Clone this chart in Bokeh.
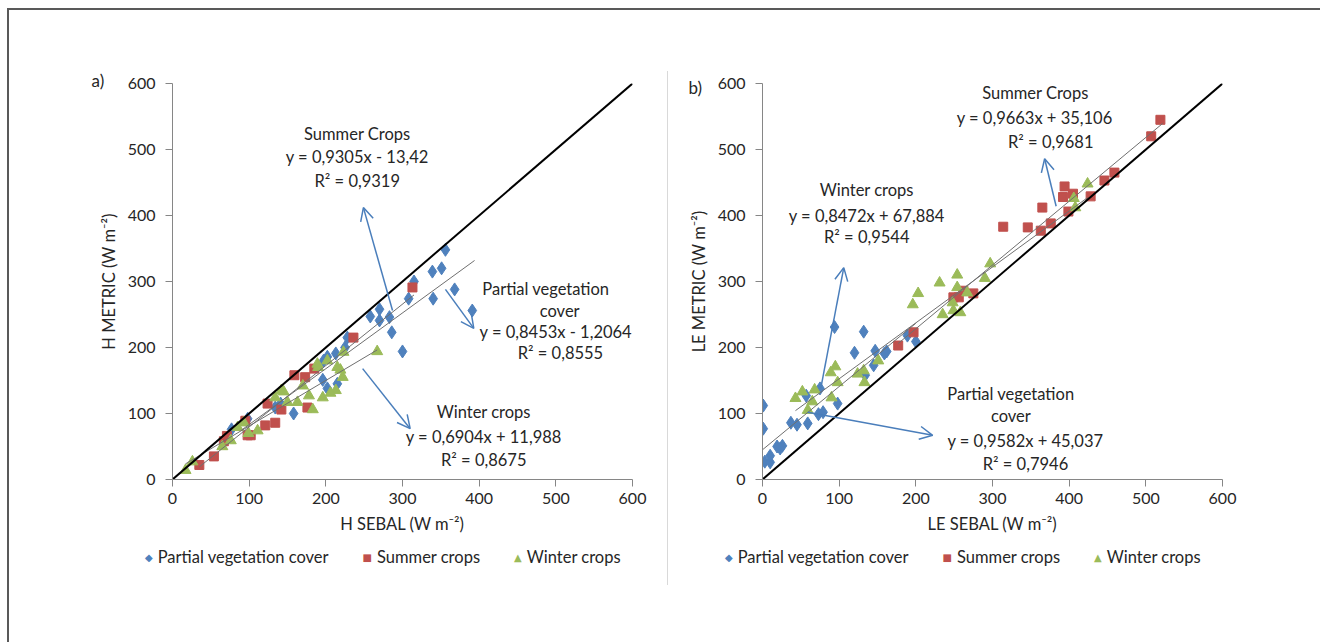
from bokeh.plotting import figure
from bokeh.layouts import row, column
from bokeh.models import Label, Arrow, OpenHead, Div, FixedTicker, Range1d
from bokeh.embed import file_html
from bokeh.resources import INLINE

# ---------------- data (a) sensible heat flux H ----------------
pv_h_x = [356, 339, 351, 340, 368, 391, 315, 308, 286, 300, 283, 270, 258, 270, 225, 228,
          213, 202, 197, 196, 202, 215, 158, 141, 134, 98, 77]
pv_h_y = [348, 315, 320, 274, 288, 256, 300, 274, 223, 194, 246, 258, 247, 241, 200, 215,
          191, 186, 180, 151, 138, 145, 100, 115, 109, 92, 76]
su_h_x = [313, 236, 185, 173, 159, 176, 142, 134, 124, 121, 95, 98, 102, 71, 67, 54, 35]
su_h_y = [291, 215, 168, 155, 158, 109, 106, 86, 115, 82, 89, 67, 67, 66, 58, 35, 22]
wi_h_x = [267, 219, 222, 215, 213, 206, 196, 189, 202, 223, 170, 178, 163, 183, 145, 134,
          150, 111, 99, 93, 85, 76, 65, 26, 17, 190, 142]
wi_h_y = [194, 166, 155, 170, 135, 131, 124, 175, 180, 193, 142, 127, 117, 106, 133, 124,
          117, 74, 70, 86, 79, 59, 50, 27, 14, 170, 135]

# ---------------- data (b) latent heat flux LE ----------------
pv_le_x = [1, 1, 3, 10, 10, 19, 26, 23, 37, 45, 59, 73, 79, 57, 75, 94, 132, 120, 147, 162,
           159, 145, 134, 98, 189, 200]
pv_le_y = [112, 77, 27, 26, 36, 50, 51, 47, 86, 83, 85, 99, 102, 127, 138, 231, 224, 192,
           195, 194, 191, 173, 158, 115, 218, 209]
su_le_x = [519, 507, 459, 446, 428, 394, 392, 405, 399, 376, 363, 365, 346, 314, 177, 197,
           256, 275, 262, 249]
su_le_y = [545, 520, 465, 453, 429, 444, 428, 433, 406, 388, 377, 412, 382, 383, 203, 223,
           276, 282, 286, 276]
wi_le_x = [43, 52, 68, 59, 65, 89, 95, 98, 90, 124, 132, 133, 151, 196, 203, 231, 235, 254,
           248, 258, 267, 249, 424, 406, 408, 297, 290, 254]
wi_le_y = [123, 133, 136, 105, 118, 162, 171, 147, 124, 160, 165, 147, 180, 265, 282, 298,
           250, 291, 268, 253, 283, 256, 448, 426, 412, 327, 305, 310]

# regression fits: slope, intercept, x-range
fit_h = {"pv": (0.8453, -1.2064, 90, 394), "su": (0.9305, -13.42, 35, 315),
         "wi": (0.6904, 11.988, 17, 267)}
fit_le = {"pv": (0.9582, 45.037, 0, 200), "su": (0.9663, 35.106, 177, 522),
          "wi": (0.8472, 67.884, 43, 424)}
one_to_one = [0, 600]
ticks = [0, 100, 200, 300, 400, 500, 600]
series_names = ["Partial vegetation cover", "Summer crops", "Winter crops"]

BLUE = "#4F81BD"
RED = "#C0504D"
GREEN = "#9BBB59"
ARROW = "#4A7EBB"
FONT = "Lato"
FS = "16.5px"
TXT = "#262626"
MARKERS = [("diamond", BLUE, 13, "◆"), ("square", RED, 9, "■"), ("triangle", GREEN, 11, "▲")]


def make_fig(width, bl, br, xlabel, ylabel, tag, tag_off, tag_stand):
    p = figure(width=width, height=530, x_range=Range1d(0, 600), y_range=Range1d(0, 600),
               output_backend="svg", toolbar_location=None,
               min_border_left=bl, min_border_right=br, min_border_top=73,
               min_border_bottom=61)
    p.grid.visible = False
    p.outline_line_color = None
    p.background_fill_color = None
    p.border_fill_color = None
    for ax in (p.xaxis[0], p.yaxis[0]):
        ax.ticker = FixedTicker(ticks=ticks)
        ax.minor_tick_line_color = None
        ax.major_tick_in = 0
        ax.major_tick_out = 7
        ax.axis_line_color = "#868686"
        ax.major_tick_line_color = "#868686"
        ax.major_label_text_font = FONT
        ax.major_label_text_font_size = "16px"
        ax.major_label_text_color = TXT
        ax.axis_label_text_font = FONT
        ax.axis_label_text_font_size = FS
        ax.axis_label_text_font_style = "normal"
        ax.axis_label_text_color = TXT
    p.xaxis.major_label_standoff = 6
    p.yaxis.major_label_standoff = 10
    p.xaxis.axis_label = xlabel
    p.yaxis.axis_label = ylabel
    p.xaxis.axis_label_standoff = 7
    p.yaxis.axis_label_standoff = 6
    p.title.text = tag
    p.title.align = "left"
    p.title.offset = tag_off
    p.title.standoff = tag_stand
    p.title.text_font = FONT
    p.title.text_font_size = "17px"
    p.title.text_font_style = "normal"
    p.title.text_color = TXT
    return p


def add_series(p, data, fits):
    for (xs, ys), (mk, col, sz, _) in zip(data, MARKERS):
        p.scatter(xs, ys, marker=mk, size=sz, fill_color=col, line_color=col)
    for key in ("pv", "su", "wi"):
        m, b, x0, x1 = fits[key]
        p.line([x0, x1], [m * x0 + b, m * x1 + b], line_color="#6f6f6f", line_width=1)
    p.line(one_to_one, one_to_one, line_color="black", line_width=2)


def legend_div(width, pad_left):
    parts = []
    for i, (name, (_, col, _, sym)) in enumerate(zip(series_names, MARKERS)):
        gap = "margin-left:34px;" if i else ""
        parts.append(
            f'<span style="{gap}color:{col};font-family:\'DejaVu Sans\';font-size:10px;'
            f'vertical-align:2px">{sym}</span>'
            f'<span style="margin-left:5px">{name}</span>')
    html = (f'<div style="font-family:Lato;font-size:{FS};color:{TXT};white-space:nowrap;'
            f'padding-left:{pad_left}px;padding-top:7px;line-height:20px">'
            + "".join(parts) + "</div>")
    return Div(text=html, width=width, height=102, margin=0)


def add_labels(p, items):
    for t, x, y in items:
        p.add_layout(Label(x=x, y=y, text=t, text_align="center", text_baseline="middle",
                           text_font=FONT, text_font_size=FS, text_color=TXT))


def add_arrows(p, items):
    for x0, y0, x1, y1 in items:
        p.add_layout(Arrow(end=OpenHead(size=13, line_color=ARROW, line_width=1.5),
                           x_start=x0, y_start=y0, x_end=x1, y_end=y1,
                           line_color=ARROW, line_width=1.5))


# ---------------- panel a ----------------
p1 = make_fig(658, 163, 35, "H SEBAL (W m⁻²)", "H METRIC (W m⁻²)", "a)", -81, -14)
add_series(p1, ((pv_h_x, pv_h_y), (su_h_x, su_h_y), (wi_h_x, wi_h_y)), fit_h)
add_arrows(p1, [(287, 256, 249, 412), (356, 288, 393, 229), (248, 168, 310, 77)])
add_labels(p1, [("Summer Crops", 241, 523), ("y = 0,9305x - 13,42", 241, 488),
                ("R² = 0,9319", 241, 453),
                ("Partial vegetation", 487, 289), ("cover", 505, 256),
                ("y = 0,8453x - 1,2064", 500, 224), ("R² = 0,8555", 506, 191),
                ("Winter crops", 406, 103), ("y = 0,6904x + 11,988", 406, 64),
                ("R² = 0,8675", 406, 30)])
l1 = legend_div(658, 136)

# ---------------- panel b ----------------
p2 = make_fig(652, 94, 98, "LE SEBAL (W m⁻²)", "LE METRIC (W m⁻²)", "b)", -74, -29)
add_series(p2, ((pv_le_x, pv_le_y), (su_le_x, su_le_y), (wi_le_x, wi_le_y)), fit_le)
add_arrows(p2, [(76, 138, 106, 321), (383, 414, 368, 486), (59, 102, 222, 67)])
add_labels(p2, [("Summer Crops", 356, 585), ("y = 0,9663x + 35,106", 355, 547),
                ("R² = 0,9681", 376, 512),
                ("Winter crops", 136, 438), ("y = 0,8472x + 67,884", 136, 400),
                ("R² = 0,9544", 136, 367),
                ("Partial vegetation", 324, 130), ("cover", 324, 96),
                ("y = 0,9582x + 45,037", 343, 58), ("R² = 0,7946", 343, 24)])
l2 = legend_div(652, 57)

divider = Div(text="", width=1, height=514, margin=(61, 0, 57, 0),
              styles={"background-color": "#d9d9d9"})

layout = row(column(p1, l1, spacing=0), divider, column(p2, l2, spacing=0),
             spacing=0, margin=(8, 0, 0, 7),
             styles={"border-top": "2px solid #595959", "border-left": "2px solid #595959"})
open("out.html", "w").write(file_html(layout, INLINE))
